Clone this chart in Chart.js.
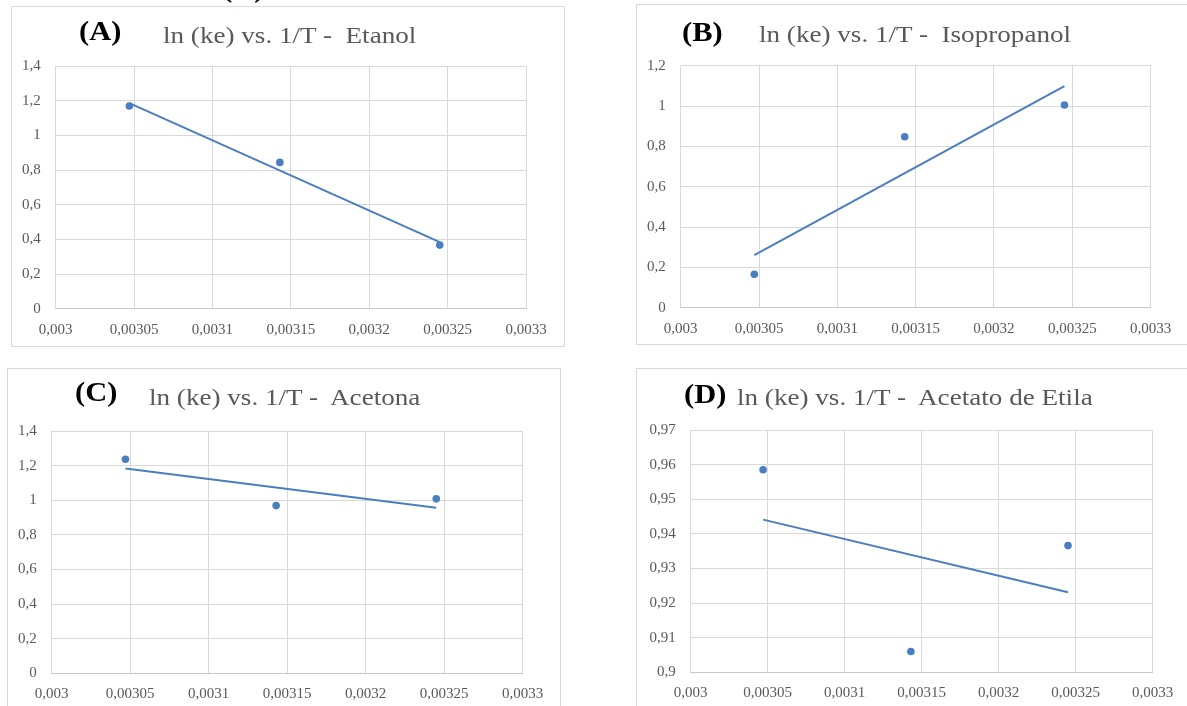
<!DOCTYPE html>
<html lang="pt">
<head>
<meta charset="utf-8">
<title>ln (ke) vs. 1/T</title>
<script src="https://cdn.jsdelivr.net/npm/chart.js@4"></script>
<style>
    html, body { margin: 0; padding: 0; background: #fff; }
    body { width: 1187px; height: 706px; position: relative; overflow: hidden; font-family: "Liberation Serif", "Times New Roman", serif; }
    .box { position: absolute; border: 1px solid #d9d9d9; box-sizing: border-box; background: #fff; }
    .plot { position: absolute; }
    .lbl, .ttl { position: absolute; white-space: pre; line-height: 1; transform: scaleX(1.13); transform-origin: 0 0; }
    .lbl { font-weight: bold; font-size: 27px; color: #000; }
    .ttl { font-size: 24px; color: #595959; }
</style>
</head>
<body>
<script>
    // Data (1/T in K^-1, ln(ke))
    const invT = [0.003047, 0.003143, 0.003245];

    const lnEtanol = [1.169, 0.844, 0.367];
    const trendEtanol = [1.186, 0.384];

    const lnIsopropanol = [0.166, 0.848, 1.005];
    const trendIsopropanol = [0.261, 1.099];

    const lnAcetona = [1.237, 0.969, 1.008];
    const trendAcetona = [1.183, 0.957];

    const lnAcetato = [0.9585, 0.906, 0.9366];
    const trendAcetato = [0.9441, 0.9231];

    // Axis ranges: [min, max, step]
    const xRange = [0.003, 0.0033, 0.00005];
    const yRangeA = [0, 1.4, 0.2];
    const yRangeB = [0, 1.2, 0.2];
    const yRangeC = [0, 1.4, 0.2];
    const yRangeD = [0.9, 0.97, 0.01];

    const panelLabels = ['(A)', '(B)', '(C)', '(D)'];
    const panelTitles = [
        'ln (ke) vs. 1/T -  Etanol',
        'ln (ke) vs. 1/T -  Isopropanol',
        'ln (ke) vs. 1/T -  Acetona',
        'ln (ke) vs. 1/T -  Acetato de Etila'
    ];

    const BLUE = '#4A7EC1';
    const PAGE_W = 1187, PAGE_H = 706;

    // Layout of each panel (page pixels)
    const panels = [
        { ln: lnEtanol, trend: trendEtanol, yr: yRangeA,
          box: { l: 11, t: 6, r: 565, b: 347 }, plot: { l: 55.7, t: 66, r: 526, b: 308.7 },
          lx: 78.5, lb: 40.7, tx: 162.6, tb: 42.7 },
        { ln: lnIsopropanol, trend: trendIsopropanol, yr: yRangeB,
          box: { l: 636, t: 4, r: 1200, b: 345 }, plot: { l: 680.7, t: 65.7, r: 1150.6, b: 307.7 },
          lx: 681.6, lb: 41.7, tx: 759, tb: 41.7 },
        { ln: lnAcetona, trend: trendAcetona, yr: yRangeC,
          box: { l: 7, t: 368, r: 561, b: 720 }, plot: { l: 51.7, t: 431, r: 522.6, b: 673.3 },
          lx: 74.6, lb: 401.7, tx: 149, tb: 405 },
        { ln: lnAcetato, trend: trendAcetato, yr: yRangeD,
          box: { l: 636, t: 368, r: 1200, b: 720 }, plot: { l: 690.7, t: 430, r: 1152.7, b: 672.3 },
          lx: 684, lb: 403.3, tx: 736.7, tb: 405 }
    ];

    // comma decimal, like the original
    function fmt(v) {
        return String(parseFloat(Number(v).toFixed(6))).replace('.', ',');
    }

    function addText(cls, text, x, baseline, size) {
        const el = document.createElement('div');
        el.className = cls;
        el.textContent = text;
        el.style.left = x + 'px';
        el.style.top = (baseline - 0.8375 * size) + 'px';
        document.body.appendChild(el);
    }

    function renderPanel(p, i) {
        // 1. frame
        const box = document.createElement('div');
        box.className = 'box';
        box.style.left = p.box.l + 'px';
        box.style.top = p.box.t + 'px';
        box.style.width = (p.box.r - p.box.l) + 'px';
        box.style.height = (p.box.b - p.box.t) + 'px';
        document.body.appendChild(box);

        // 2. canvas (clipped to the page)
        const cl = p.box.l + 1, ct = p.box.t + 1;
        const cr = Math.min(p.box.r - 1, PAGE_W), cb = Math.min(p.box.b - 1, PAGE_H);
        const canvas = document.createElement('canvas');
        canvas.className = 'plot';
        canvas.width = cr - cl;
        canvas.height = cb - ct;
        canvas.style.left = cl + 'px';
        canvas.style.top = ct + 'px';
        document.body.appendChild(canvas);

        const yW = p.plot.l - cl;
        const xH = cb - p.plot.b;
        const tickFont = { family: 'Liberation Serif', size: 15 };

        new Chart(canvas.getContext('2d'), {
            type: 'scatter',
            data: {
                datasets: [
                    {
                        data: invT.map((x, k) => ({ x: x, y: p.ln[k] })),
                        backgroundColor: BLUE,
                        borderWidth: 0,
                        pointRadius: 3.8
                    },
                    {
                        data: [{ x: invT[0], y: p.trend[0] }, { x: invT[invT.length - 1], y: p.trend[1] }],
                        showLine: true,
                        borderColor: BLUE,
                        borderWidth: 2,
                        pointRadius: 0,
                        fill: false
                    }
                ]
            },
            options: {
                responsive: false,
                animation: false,
                layout: { padding: { top: p.plot.t - ct, right: cr - p.plot.r, left: 0, bottom: 0 } },
                plugins: { legend: { display: false }, tooltip: { enabled: false } },
                scales: {
                    x: {
                        type: 'linear',
                        min: xRange[0], max: xRange[1],
                        afterFit: s => { s.height = xH; },
                        ticks: {
                            stepSize: xRange[2], autoSkip: false, maxRotation: 0, padding: 12,
                            color: '#595959', font: tickFont, callback: v => fmt(v)
                        },
                        grid: { color: '#d9d9d9', drawTicks: false },
                        border: { color: '#c8c8c8' }
                    },
                    y: {
                        min: p.yr[0], max: p.yr[1],
                        afterFit: s => { s.width = yW; },
                        ticks: {
                            stepSize: p.yr[2], padding: 15,
                            color: '#595959', font: tickFont, callback: v => fmt(v)
                        },
                        grid: { color: '#d9d9d9', drawTicks: false },
                        border: { display: false }
                    }
                }
            }
        });

        // 3. titles
        addText('lbl', panelLabels[i], p.lx, p.lb, 27);
        addText('ttl', panelTitles[i], p.tx, p.tb, 24);
    }

    // cut-off caption at the very top of the page
    addText('lbl', '(A)', 222, -2, 27);

    panels.forEach(renderPanel);
</script>
</body>
</html>
